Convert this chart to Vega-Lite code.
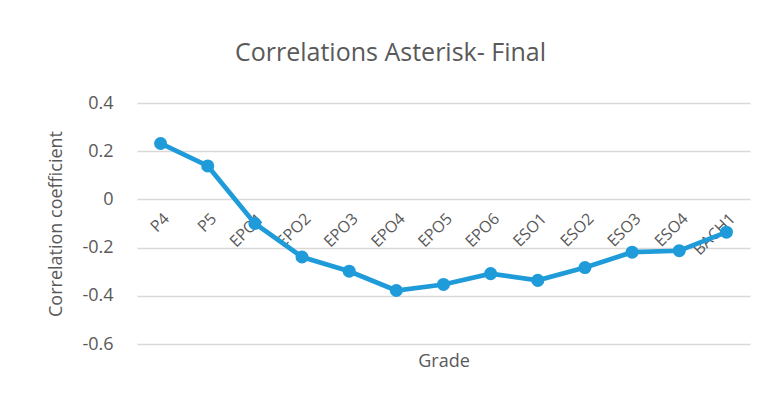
{
  "$schema": "https://vega.github.io/schema/vega-lite/v6.json",
  "autosize": {"type": "none"},
  "width": 613,
  "height": 241,
  "padding": {"left": 137, "top": 103, "right": 17, "bottom": 57},
  "background": "white",
  "title": {
    "text": "Correlations Asterisk- Final",
    "fontSize": 25,
    "font": "Open Sans",
    "fontWeight": "normal",
    "color": "#595959",
    "anchor": "middle",
    "dx": -53,
    "offset": 28
  },
  "data": {
    "values": [
      {"grade": "P4", "r": 0.232},
      {"grade": "P5", "r": 0.139},
      {"grade": "EPO1", "r": -0.100},
      {"grade": "EPO2", "r": -0.239},
      {"grade": "EPO3", "r": -0.298},
      {"grade": "EPO4", "r": -0.378},
      {"grade": "EPO5", "r": -0.353},
      {"grade": "EPO6", "r": -0.308},
      {"grade": "ESO1", "r": -0.336},
      {"grade": "ESO2", "r": -0.283},
      {"grade": "ESO3", "r": -0.219},
      {"grade": "ESO4", "r": -0.213},
      {"grade": "BACH1", "r": -0.136}
    ]
  },
  "mark": {"type": "line", "color": "#1f9bd9", "strokeWidth": 4.7, "point": {"filled": true, "size": 170, "color": "#1f9bd9", "opacity": 1}},
  "encoding": {
    "x": {
      "field": "grade",
      "type": "ordinal",
      "sort": null,
      "scale": {"paddingInner": 0, "paddingOuter": 0},
      "axis": {
        "title": "Grade",
        "titleFont": "Open Sans",
        "titleFontSize": 18,
        "titleFontWeight": "normal",
        "titleColor": "#595959",
        "titleY": 162,
        "titleBaseline": "middle",
        "offset": -145,
        "labelAngle": -45,
        "labelFont": "Open Sans",
        "labelFontSize": 16,
        "labelColor": "#595959",
        "labelPadding": 11,
        "labelOverlap": false,
        "labelBound": false,
        "domain": false,
        "ticks": false,
        "grid": false
      }
    },
    "y": {
      "field": "r",
      "type": "quantitative",
      "scale": {"domain": [-0.6, 0.4], "nice": false, "zero": false},
      "axis": {
        "title": "Correlation coefficient",
        "titleFont": "Open Sans",
        "titleFontSize": 18,
        "titleFontWeight": "normal",
        "titleColor": "#595959",
        "titleX": -81,
        "titleBaseline": "middle",
        "values": [-0.6, -0.4, -0.2, 0, 0.2, 0.4],
        "labelExpr": "datum.value == 0 ? '0' : replace(format(datum.value, '.1f'), '−', '-')",
        "labelFont": "Open Sans",
        "labelFontSize": 18,
        "labelColor": "#595959",
        "labelPadding": 24,
        "domain": false,
        "ticks": false,
        "grid": true,
        "gridColor": "#d9d9d9",
        "gridWidth": 1.5
      }
    }
  },
  "config": {"view": {"stroke": null}}
}
